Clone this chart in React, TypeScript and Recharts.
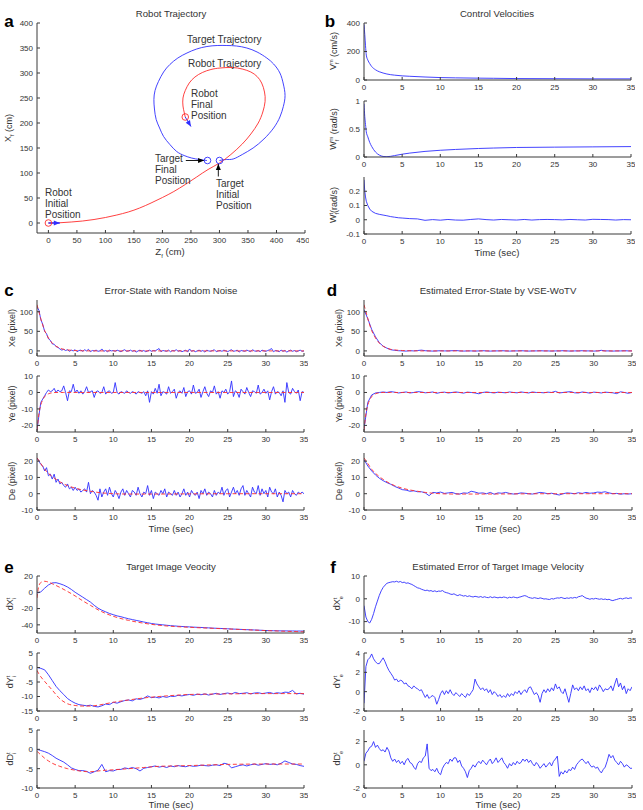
import React from "react";
import { LineChart, Line, XAxis, YAxis } from "recharts";

const FONT = '"Liberation Sans", Arial, Helvetica, sans-serif';
const BLUE = "#2f2fff";
const RED = "#ff2b2b";
const INK = "#333";
const AX = "#3a3a3a";

// time grids
const T_TICKS = [0, 5, 10, 15, 20, 25, 30, 35];
const T_Q = Array.from({ length: 141 }, (_, i) => i / 4); // 0.25 s samples
const T_H = Array.from({ length: 71 }, (_, i) => i / 2); // 0.5 s samples

// ---------- a: robot trajectory (Z, X in cm)
const TGT_Z = [300, 312, 324, 340, 359, 378, 395, 406, 412, 415, 412, 406, 395, 383, 366, 348, 330, 313, 296, 278, 260, 243, 227, 213, 202, 193, 187, 185, 186, 189, 195, 202, 213, 225, 238, 251, 265, 278];
const TGT_X = [125, 127, 128, 137, 150, 168, 190, 212, 233, 255, 278, 300, 318, 330, 342, 350, 354, 355, 355, 353, 348, 340, 330, 317, 302, 283, 265, 247, 228, 207, 190, 173, 157, 143, 135, 130, 127, 125];
const RB_Z = [0, 20, 40, 60, 80, 100, 120, 140, 160, 180, 200, 220, 240, 260, 280, 300, 320, 340, 355, 368, 376, 380, 379, 374, 366, 355, 340, 322, 301, 285, 270, 257, 247, 240, 236, 236, 238, 240];
const RB_X = [0, 0.5, 2, 4, 7, 11, 16, 22, 30, 40, 51, 63, 77, 92, 107, 120, 137, 158, 178, 200, 222, 243, 262, 280, 293, 302, 308, 311, 310, 307, 301, 292, 280, 265, 250, 234, 222, 212];
const ROBOT_START = [{ x: 0, y: 0 }];
const ROBOT_END = [{ x: 240, y: 212 }];
const TARGET_START = [{ x: 300, y: 125 }];
const TARGET_END = [{ x: 279, y: 125 }];
const ARROW_ROBOT_START = [{ x: 0, y: 0 }, { x: 20, y: 0 }];
const ARROW_ROBOT_END = [{ x: 240, y: 212 }, { x: 250, y: 193 }];
const ARROW_TGT_FINAL = [{ x: 241, y: 125 }, { x: 273, y: 125 }];
const ARROW_TGT_INIT = [{ x: 298, y: 93 }, { x: 298, y: 118 }];
const A_XTICKS = [0, 50, 100, 150, 200, 250, 300, 350, 400, 450];
const A_YTICKS = [0, 50, 100, 150, 200, 250, 300, 350, 400];

// ---------- b: control velocities
const B_T = [0, 0.1, 0.2, 0.3, 0.5, 0.75, 1, 1.5, 2, 2.5, 3, 4, 5, 6, 8, 10, 12, 15, 17, 20, 25, 30, 35];
const V_M = [390, 320, 240, 175, 140, 115, 95, 72, 58, 49, 42, 34, 29, 26, 21, 17, 15, 13, 12, 10, 9, 8, 8];
const W_M = [0.95, 0.72, 0.58, 0.45, 0.36, 0.26, 0.19, 0.09, 0.035, 0.01, 0.005, 0.025, 0.05, 0.07, 0.1, 0.12, 0.135, 0.152, 0.16, 0.17, 0.176, 0.181, 0.186];
const WT_T = [0, 0.1, 0.2, 0.3, 0.5, 0.75, 1, 1.5, 2, 2.5, 3, 3.5, 4, 4.5, 5, 6, 7, 8, 9, 10, 11, 12, 13, 14, 15, 16, 17, 18, 19, 20, 21, 22, 23, 24, 25, 26, 27, 28, 29, 30, 31, 32, 33, 34, 35];
const W_T = [
  0.28, 0.2, 0.16, 0.13, 0.1, 0.075, 0.06, 0.045, 0.038, 0.033, 0.028, 0.022, 0.018, 0.014, 0.012,
  0.008, 0.006, -0.004, 0.001, -0.003, 0.002, -0.002, -0.003, 0.002, 0.006,
  0.001, -0.002, 0.002, 0, -0.002, 0.002, -0.002, 0.001, 0.002, 0.001,
  -0.001, 0.002, 0, -0.002, 0.003, 0.002, 0.001, -0.002, 0.001, 0,
];

// ---------- true error states (red)
const E_T = [0, 0.25, 0.5, 0.75, 1, 1.25, 1.5, 2, 2.5, 3, 3.5, 4, 5, 6, 8, 10, 15, 20, 25, 30, 35];
const XE_TRUE = [118, 100, 82, 66, 52, 42, 33, 20, 12, 7, 4, 2.5, 1, 0.3, 0, 0, 0, 0, 0, 0, 0];
const YE_TRUE = [-23, -13, -7.5, -4.5, -2.5, -1.5, -0.8, -0.2, 0, 0, 0, 0, 0, 0, 0, 0, 0, 0, 0, 0, 0];
const DE_T = [0, 0.5, 1, 1.5, 2, 2.5, 3, 3.5, 4, 5, 6, 7, 8, 9, 10, 12, 15, 20, 25, 30, 35];
const DE_TRUE = [22, 18.5, 15, 12.5, 10.5, 8.8, 7.3, 6, 5, 3.4, 2.3, 1.5, 0.8, 0.3, 0, -0.2, -0.2, -0.1, 0, 0, 0];

// ---------- c: measured error-state with noise (0.25 s)
const XE_NOISY = [
  112, 104, 80, 68, 50, 44, 31, 27, 18, 17, 11, 9, 5, 2, 4, 1, 3, -1, 2, 0,
  3, -2, 1, 2, -1, 3, 0, 4, -2, 1, 0, 2, -1, 0, 5, -1, 1, -2, 2, 0,
  1, -1, 2, 0, -2, 1, 3, -1, 0, 2, -1, 1, -3, 0, 2, -1, 1, -2, 0, 2,
  -1, 1, 0, 3, 6, -2, 1, 0, -1, 2, -2, 1, 0, 3, -1, 1, -2, 0, 2, -3,
  5, -1, 1, -2, 0, 2, -1, 1, -3, 2, 0, -1, 1, 3, -2, 0, 1, -1, 2, 0,
  -2, 1, 3, -1, 0, 2, -3, 1, 0, -1, 2, 0, -2, 3, 0, -1, 1, -2, 2, 0,
  -1, 1, 3, 6, -2, 1, 0, -2, 2, -1, 1, -3, 0, 2, -1, 1, -2, 0, 2, -1,
  0,
];
const YE_NOISY = [
  -23, -14, -6, -4, -2, 0, 1.5, 0.5, 1, 2.5, 0, 1.5, 0.5, 1, 4, 0, -5, 1, 0.5, 5,
  0, 1.5, -0.5, 1, -1, 0.5, 3.5, 0, 0.5, 1, -3, 0.5, 1, -0.5, 0, 3.5, -1, 0.5, 1, -0.5,
  0, 6, 0, -1, 0.5, 0, -0.5, 1, 0, -0.5, 0.5, 0, -1, 0.5, 0, -0.5, 0.5, -2, 1, -6,
  0.5, -1, 2.5, -0.5, 5, -2, 0.5, 0, -1, 3.5, -0.5, 0.5, 2, -3.5, 0, 1, -0.5, 3, -2.5, 0.5,
  1, -1, 4.5, -0.5, 0, 2, -3, 0.5, 3.5, -0.5, -2.5, 1, 0, 4, -1, 0.5, -3.5, 1, 0, 2,
  -1, 0.5, 7, -2.5, 1, 0, -3, 2, 0.5, -1, 3, 0, -2.5, 1, 0.5, -0.5, 4.5, -1, 0, 2,
  -0.5, 1, -4.5, 0.5, 3.5, -1, 0.5, 0, -2, 1, -6, 6, 0, -1, 2.5, 0.5, -0.5, 1.5, -5, 0.5,
  0,
];
const DE_NOISY = [
  22, 20, 18, 17, 14, 16, 11, 12, 9, 12, 7, 9, 6, 7, 5, 4, 6, 3, 4, 2,
  4, 2, 3, 1, 2, 3, 1, 7, 0, 2, 1, -1, -4, 3, -2, 1, 3, -1, 4, 0,
  -2, 2, 0, -3, 1, 3, -1, 2, 0, -2, 2, 1, -1, 4, 0, -2, 1, 0, 5, -1,
  2, -3, 1, 0, -1, 2, 0, 3, -2, 1, 0, -1, 2, -1, 1, -2, 0, 3, -1, 1,
  -2, 2, 0, -1, 1, -3, 2, 0, 3, -1, 1, 0, -2, 2, -1, 1, 0, 4, -1, 2,
  3, -2, 1, 4, 0, 2, -1, 3, 5, -1, 2, 0, -2, 4, 1, 0, 5, -1, 3, 0,
  2, -2, 4, 1, 0, 3, -2, 1, -1, -5, 2, 0, 1, -2, 2, 0, -1, 1, 0, 1,
  0,
];

// ---------- d: estimated error-state (0.5 s)
const XE_EST = [
  105, 82, 55, 36, 21, 12, 7, 3, 1.5, 0.5, 0, -0.5, 0.5, 0, 1, 2, 0.5, 0, -0.5, 0,
  0.5, 0, 0, 0.5, 1, 0, -0.5, 0, 0, -0.5, 0, 0.5, 0, -0.5, 0, 0, 0.5, 0, -0.5, 0,
  0, 0.5, 0, -0.5, 0, 0, 0.5, 0, 0, -0.5, 0, 0, 0.5, 0, -0.5, 0, 0, 0.5, 0, 0,
  -0.5, 0, 1.5, 0, 0, -0.5, 0, 0, 0.5, 0, 0,
];
const YE_EST = [
  -22, -6, -1.5, -0.3, 0, 0.3, 0, 0.5, 0.2, -0.3, 0, 0.3, -0.3, 0, 0.5, 0.3, -0.2, 0, 0.3, -0.5,
  0, 0.2, -0.3, 0, 0.3, 0, -0.4, 0.2, 0, -0.3, -0.8, 0, 0.3, 0, -0.3, 0.2, 0, -0.2, 0.3, 0,
  -0.2, 0.3, 0, -0.3, 0.3, 0, 0, -0.2, 0.2, 0, 0.7, -0.3, 0, 0.3, 0.5, -0.2, -0.3, 0.3, 0, -0.4,
  0.2, 0, -0.3, 0.2, 0, -0.2, -0.7, 0.4, 0, -0.5, 0,
];
const DE_EST = [
  21, 17, 14, 11.5, 9.5, 8, 6.8, 5.8, 4.5, 3.5, 2.5, 2.2, 1.5, 1.8, 1.2, 1.2, 0.5, -1.2, 0.8, 0.5,
  1, 0.2, 0.5, 0.8, 0, -0.2, 0.5, 0.3, 1.5, 1, 0.3, 0.5, 0, 0.8, -0.3, 0.5, 0.3, 0.8, 0.2, -0.2,
  0, 0.5, 0.3, 0, -0.2, 0.3, 0.8, 0.5, 0, 0.3, -0.3, -0.8, 0, 0.5, 0.3, 0, 0.6, 0.2, 0.8, 0.3,
  0.5, 1, 0.8, 1.2, 0.5, 0, 0.2, -0.3, 0, -0.2, 0,
];

// ---------- e: target image velocity
const EV_T = [0, 0.2, 0.5, 1, 1.5, 2, 3, 4, 5, 6, 7, 8, 9, 10, 12, 14, 16, 18, 20, 25, 30, 35];
const DX_REF = [-7, 6, 12, 13.5, 12.5, 10.5, 6, 1, -4.5, -10.5, -16, -21.5, -26, -29.5, -34.5, -38, -40.5, -42, -43, -45, -47, -48.6];
const DY_REF = [-1, -2, -3.2, -4.8, -6.3, -7.8, -10.8, -12.5, -13.1, -13.3, -13.3, -13, -12.5, -12, -11.2, -10.5, -10, -9.6, -9.3, -9.1, -9, -9];
const DD_REF = [-0.5, -0.9, -1.4, -2.3, -3, -3.6, -4.4, -5, -5.4, -5.7, -5.8, -5.6, -5.4, -5.3, -5, -4.7, -4.4, -4.3, -4.2, -3.9, -3.8, -3.8];
const DX_MEAS = [
  -1, 0.5, 5, 9, 11.5, 11.8, 10.5, 8.8, 6.5, 3.5, 0, -3, -6, -9, -12, -16, -19.5, -22, -24, -26,
  -27.5, -29, -30, -31.3, -32.5, -33.5, -34.5, -35.5, -36.5, -37.4, -38.3, -39, -39.5, -40, -40.5, -41, -41.3, -41.7, -42, -42.3,
  -42.5, -42.8, -43, -43.2, -43.5, -43.7, -44, -44.2, -44.4, -44.6, -44.8, -45.1, -45.3, -45.5, -45.7, -45.9, -46.1, -46.3, -46.5, -46.7,
  -47, -47.1, -47.2, -47.3, -47.4, -47.4, -47.5, -47.5, -47.6, -47.6, -47.6,
];
const DY_MEAS = [
  0, -0.3, -0.8, -2.5, -4.5, -6.5, -8, -9.3, -10.7, -11.6, -12.3, -12.8, -13, -13.2, -13, -13.4, -13.6, -13.2, -12.6, -12.8,
  -12, -12.3, -11.8, -11.4, -11.2, -11.5, -10.8, -11, -10.6, -9.8, -10.4, -10.2, -10.5, -10, -10.3, -9.9, -10, -9.6, -9.8, -9.5,
  -9.3, -9.6, -9.2, -9.4, -9.1, -9.5, -9.2, -8.9, -9.3, -9, -8.8, -9.1, -8.6, -9, -8.9, -8.7, -9.1, -8.8, -8.7, -9,
  -8.8, -8.6, -9, -8.7, -8.9, -8.5, -8.6, -7.9, -9.1, -8.9, -9.2,
];
const DD_MEAS = [
  0, -0.3, -0.6, -1, -1.6, -2.3, -2.8, -3.3, -4, -4.8, -5.2, -5.5, -5.5, -5.7, -6.2, -5.8, -5.4, -3.9, -5.8, -5.5,
  -5.6, -5.2, -5.2, -4.8, -5, -4.7, -5, -5.6, -4.9, -4.7, -4.5, -4.3, -4.6, -4.4, -4.7, -4.3, -4.5, -4.2, -4.4, -4.5,
  -4.2, -4.4, -4.3, -4.1, -4.2, -4.3, -4.1, -4, -4.2, -3.6, -3.8, -4.8, -4.5, -4.2, -4, -4.3, -4, -3.8, -4.1, -3.9,
  -3.7, -3.9, -3.8, -4, -3.6, -3, -3.4, -3.8, -3.9, -4.2, -4.4,
];

// ---------- f: estimated error of target image velocity (0.25 s)
const DX_ERR = [
  -3, -8, -10, -10.6, -9, -6.5, -3.5, -1, 1.5, 3.5, 5, 6, 6.8, 7.1, 7.3, 7.5, 7.4, 7.7, 7.3, 7.6,
  7.1, 7.3, 6.8, 7, 6.6, 6.3, 5.8, 5.3, 4.8, 4.6, 4.2, 3.9, 3.6, 3.8, 3.4, 3.6, 3.2, 3.5, 3.1, 3.4,
  3.3, 3.6, 3, 2.7, 2.5, 2.1, 1.9, 2.2, 1.7, 1.4, 1.8, 1.5, 1.2, 1.4, 1, 1.3, 1, 0.8, 1.1, 0.9,
  0.7, 1, 0.6, 0.9, 0.6, 0.5, 0.9, 0.5, 0.8, 0.6, 0.4, 0.7, 0.5, 0.8, 0.6, 0.3, 0.7, 0.5, 0.8, 0.6,
  0.4, 0.7, 0.9, 1.2, 1.4, 1.1, 0.6, 0.4, 0.2, 0.5, 0.3, 0.1, 0.4, 0.2, -0.1, 0, -0.2, -0.3, 0.1, -0.1,
  0.2, 0.4, 0.3, 0.6, 0.3, 0.1, 0.4, 0.2, 0.5, 0.3, 0.6, 0.4, 0.9, 1.1, 1.4, 0.8, 0.3, 0.1, -0.2, 0.1,
  -0.1, 0.2, 0, -0.2, 0, -0.3, -0.1, -0.4, -0.2, -0.6, -0.8, -0.5, -0.3, 0, 0.2, -0.1, 0.2, 0.4, 0.1, 0.4,
  0.3,
];
const DY_ERR = [
  -1.2, 2.6, 3.3, 3.5, 3.9, 3.4, 3.1, 2.9, 2.9, 3.2, 3.5, 3.1, 2.6, 2.2, 1.9, 1.6, 1.2, 1.3, 1, 1.2,
  1.1, 0.8, 0.9, 0.6, 0.5, 0.3, 0.6, 0.4, 0.3, 0.1, 0.2, -0.2, -0.6, -0.3, -0.7, -0.5, -0.4, -0.6, -1.3, -0.8,
  -0.2, 0.1, -0.3, 0.1, -0.2, 0.2, -0.2, -0.4, -0.1, -0.3, -0.5, -0.2, -0.4, -0.6, -0.2, -0.4, -0.1, 0.2, 1.3, 0.8,
  0.5, 0.2, 0.4, 0.1, 0.3, -0.1, 0.2, -0.3, 0, -0.2, -0.5, -0.3, -0.6, -0.4, -0.6, -0.2, -0.5, -0.2, -0.4, 0,
  -0.2, 0.1, -0.3, 0, 0.2, -0.1, 0.4, 0.5, 0.1, -0.3, -0.1, -0.4, -1.1, -0.2, 0.2, -0.1, 0.3, 0, 0.4, 0.1,
  0.8, 0.3, 0.5, 0, -0.2, 0.3, -0.4, -1.1, -0.2, 0.7, 0.2, 0.4, 0.1, 0.5, 0.2, 0.6, 0.1, 0.3, -0.1, 0.4,
  0.2, 0.5, 0.1, 0.7, 0.4, 0, 0.3, 0.2, 0.3, 0.6, 0.1, 0.8, 1.4, 0.5, 0.9, 0.2, 0.6, -0.2, 0.3, 0.1,
  0.5,
];
const DD_ERR = [
  0.3, 1, 1.2, 1.5, 1.6, 2, 1.5, 1.7, 1.4, 1.2, 1.3, 1.1, 1.5, 1.2, 0.6, 0.3, 0.5, 0.2, 0.4, 0.1,
  0.3, 0, 0.4, 0.55, 0.2, 0.1, -0.2, -0.4, 0.1, 0.3, 0.2, 0.6, 0.75, 1.8, -0.3, -0.5, -0.4, -0.6, -0.3, -0.7,
  -0.85, -0.3, 0, 0.2, 0.1, 0.5, 0.3, 0.6, 0.6, 0.2, 0.4, -0.1, -0.3, -0.6, -1.1, -0.5, -0.3, 0, -0.2, 0.1,
  0.3, 0.1, 0.4, 0.2, 0, 0.3, 0.5, 0.1, 0.3, 0.6, 0.2, 0.4, 0.6, 0.2, 0, -0.3, 0.1, -0.1, 0.2, 0,
  0.3, 0.1, 0.2, 0.5, 0.3, 0.5, 0.2, 0.4, 0.1, -0.1, 0.2, 0, -0.3, -0.1, 0.1, -0.2, 0, 0.2, -0.1, 0.3,
  0.5, 0.75, -1, -0.6, -0.8, -0.5, -0.7, -0.4, -0.5, -0.2, -0.4, 0, 0.2, 0.4, 0.5, 0.3, 0.1, 0.3, 0, -0.2,
  -0.1, -0.3, -0.2, -0.5, -0.7, -0.4, -0.2, 0.3, 0.9, 0.6, 0.8, 0.4, 0.2, 0, 0.3, 0.1, -0.2, 0, -0.1, -0.3,
  -0.3,
];

const rows = (ts: number[], vs: number[]) => ts.map((t, i) => ({ t, v: vs[i] }));
const pts = (xs: number[], ys: number[]) => xs.map((x, i) => ({ x, y: ys[i] }));

const YW = 32;
const PAD = 4;
const XH = 16;
const blank = () => "";
const tickStyle = { fontSize: 8, fill: INK, fontFamily: FONT };

type Ser = { t: number[]; v: number[]; color: string; dash?: string; curve?: "linear" | "monotone" };

function TimePlot({ x, y, w, h, yDomain, yTicks, series }: {
  x: number; y: number; w: number; h: number;
  yDomain: [number, number]; yTicks: number[]; series: Ser[];
}) {
  return (
    <div style={{ position: "absolute", left: x - YW, top: y - PAD }}>
      <LineChart width={w + YW + PAD} height={h + PAD + XH} margin={{ top: PAD, right: PAD, bottom: 0, left: 0 }}>
        <XAxis xAxisId="b" dataKey="t" type="number" domain={[0, 35]} ticks={T_TICKS} allowDataOverflow
          height={XH} tickSize={-3} tickMargin={7} tick={tickStyle} axisLine={{ stroke: AX }} tickLine={{ stroke: AX }} />
        <XAxis xAxisId="t" orientation="top" dataKey="t" type="number" domain={[0, 35]} ticks={T_TICKS} allowDataOverflow
          height={0} tickSize={-3} tickFormatter={blank} axisLine={{ stroke: AX }} tickLine={{ stroke: AX }} />
        <YAxis yAxisId="l" type="number" domain={yDomain} ticks={yTicks} allowDataOverflow width={YW}
          tickSize={-3} tickMargin={7} tick={tickStyle} axisLine={{ stroke: AX }} tickLine={{ stroke: AX }} />
        <YAxis yAxisId="r" orientation="right" type="number" domain={yDomain} ticks={yTicks} allowDataOverflow width={0}
          tickSize={-3} tickFormatter={blank} axisLine={{ stroke: AX }} tickLine={{ stroke: AX }} />
        {series.map((s, i) => (
          <Line key={i} xAxisId="b" yAxisId="l" data={rows(s.t, s.v)} dataKey="v" type={s.curve ?? "linear"}
            stroke={s.color} strokeWidth={0.9} strokeDasharray={s.dash} dot={false} activeDot={false}
            isAnimationActive={false} />
        ))}
      </LineChart>
    </div>
  );
}

const Txt = ({ x, y, size = 9.6, bold = false, children }: any) => (
  <div style={{
    position: "absolute", left: x, top: y, transform: "translate(-50%, -50%)", fontSize: size,
    fontWeight: bold ? 700 : 400, lineHeight: 1, whiteSpace: "nowrap", color: bold ? "#000" : INK,
  }}>{children}</div>
);

const VLabel = ({ x, y, children }: any) => (
  <div style={{
    position: "absolute", left: x, top: y, transform: "translate(-50%, -50%) rotate(-90deg)",
    fontSize: 9, lineHeight: 1, whiteSpace: "nowrap", color: INK,
  }}>{children}</div>
);

// base letter with stacked superscript / subscript
const SS = ({ b, sup, sub }: any) => (
  <span>
    {b}
    <span style={{ position: "relative", display: "inline-block", fontSize: "0.62em", verticalAlign: "0.6em", lineHeight: 1 }}>
      {sup ?? "\u00a0"}
      <span style={{ position: "absolute", left: 0, top: "1.05em" }}>{sub}</span>
    </span>
  </span>
);

const Note = ({ x, y, lines }: { x: number; y: number; lines: string[] }) => (
  <div style={{ position: "absolute", left: x, top: y, fontSize: 10, lineHeight: "11px", color: INK, whiteSpace: "nowrap" }}>
    {lines.map((l) => <div key={l}>{l}</div>)}
  </div>
);

const ring = (color: string) => (p: any) => (
  <circle key={`r${p.index}`} cx={p.cx} cy={p.cy} r={3.3} stroke={color} strokeWidth={0.9} fill="none" />
);
const head = (color: string, angle: number) => (p: any) =>
  p.index === 1 ? (
    <polygon key={`h${p.index}`} points="0,0 -6,-2.5 -6,2.5" fill={color} stroke="none"
      transform={`translate(${p.cx},${p.cy}) rotate(${angle})`} />
  ) : <g key={`h${p.index}`} />;

function Trajectory() {
  const axisProps = { tickSize: -3, tickMargin: 7, tick: tickStyle, axisLine: { stroke: AX }, tickLine: { stroke: AX } };
  return (
    <div style={{ position: "absolute", left: 37 - YW, top: 23 - PAD }}>
      <LineChart width={268 + YW + PAD} height={210 + PAD + XH} margin={{ top: PAD, right: PAD, bottom: 0, left: 0 }}>
        <XAxis dataKey="x" type="number" domain={[-20, 450]} ticks={A_XTICKS} allowDataOverflow height={XH} {...axisProps} />
        <YAxis type="number" domain={[-20, 400]} ticks={A_YTICKS} allowDataOverflow width={YW} {...axisProps} />
        <Line data={pts(TGT_Z, TGT_X)} dataKey="y" type="natural" stroke={BLUE} strokeWidth={0.9} dot={false} activeDot={false} isAnimationActive={false} />
        <Line data={pts(RB_Z, RB_X)} dataKey="y" type="natural" stroke={RED} strokeWidth={0.9} dot={false} activeDot={false} isAnimationActive={false} />
        <Line data={ARROW_ROBOT_START} dataKey="y" stroke={BLUE} strokeWidth={1.4} dot={head(BLUE, 0)} activeDot={false} isAnimationActive={false} />
        <Line data={ARROW_ROBOT_END} dataKey="y" stroke={BLUE} strokeWidth={1} dot={head(BLUE, 59)} activeDot={false} isAnimationActive={false} />
        <Line data={ARROW_TGT_FINAL} dataKey="y" stroke="#000" strokeWidth={0.9} dot={head("#000", 0)} activeDot={false} isAnimationActive={false} />
        <Line data={ARROW_TGT_INIT} dataKey="y" stroke="#000" strokeWidth={0.9} dot={head("#000", -90)} activeDot={false} isAnimationActive={false} />
        <Line data={ROBOT_START} dataKey="y" stroke="none" dot={ring(RED)} activeDot={false} isAnimationActive={false} />
        <Line data={ROBOT_END} dataKey="y" stroke="none" dot={ring(RED)} activeDot={false} isAnimationActive={false} />
        <Line data={TARGET_START} dataKey="y" stroke="none" dot={ring(BLUE)} activeDot={false} isAnimationActive={false} />
        <Line data={TARGET_END} dataKey="y" stroke="none" dot={ring(BLUE)} activeDot={false} isAnimationActive={false} />
      </LineChart>
    </div>
  );
}

const DASH = "4 2.5";

export default function App() {
  const L = 37, R = 364, WL = 267, WR = 268;
  return (
    <div style={{ position: "absolute", left: 0, top: 0, width: 643, height: 810, background: "#fff", fontFamily: FONT, overflow: "hidden" }}>
      {/* a */}
      <Trajectory />
      <Txt x={171} y={14}>Robot Trajectory</Txt>
      <Txt x={170} y={252}><SS b="Z" sub="f" /> (cm)</Txt>
      <VLabel x={9} y={128}><SS b="X" sub="f" /> (cm)</VLabel>
      <Note x={187} y={34} lines={["Target Trajectory"]} />
      <Note x={188} y={58} lines={["Robot Trajectory"]} />
      <Note x={191} y={88} lines={["Robot", "Final", "Position"]} />
      <Note x={155} y={153} lines={["Target", "Final", "Position"]} />
      <Note x={216} y={178} lines={["Target", "Initial", "Position"]} />
      <Note x={45} y={187} lines={["Robot", "Initial", "Position"]} />

      {/* b */}
      <Txt x={497} y={14}>Control Velocities</Txt>
      <TimePlot x={R} y={23} w={WL} h={57} yDomain={[0, 400]} yTicks={[0, 200, 400]}
        series={[{ t: B_T, v: V_M, color: BLUE, curve: "monotone" }]} />
      <TimePlot x={R} y={101} w={WL} h={56} yDomain={[0, 1]} yTicks={[0, 0.5, 1]}
        series={[{ t: B_T, v: W_M, color: BLUE, curve: "monotone" }]} />
      <TimePlot x={R} y={177} w={WL} h={57} yDomain={[-0.1, 0.3]} yTicks={[-0.1, 0, 0.1, 0.2]}
        series={[{ t: WT_T, v: W_T, color: BLUE }]} />
      <VLabel x={334} y={51}><SS b="V" sup="m" sub="f" /> (cm/s)</VLabel>
      <VLabel x={334} y={129}><SS b="W" sup="m" sub="f" /> (rad/s)</VLabel>
      <VLabel x={334} y={205}><SS b="W" sup="t" sub="f" />(rad/s)</VLabel>
      <Txt x={497} y={253}>Time (sec)</Txt>

      {/* c */}
      <Txt x={171} y={291}>Error-State with Random Noise</Txt>
      <TimePlot x={L} y={300} w={WL} h={56} yDomain={[-13, 130]} yTicks={[0, 50, 100]}
        series={[{ t: T_Q, v: XE_NOISY, color: BLUE }, { t: E_T, v: XE_TRUE, color: RED, dash: DASH, curve: "monotone" }]} />
      <TimePlot x={L} y={376} w={WL} h={56} yDomain={[-24, 10]} yTicks={[-20, -10, 0, 10]}
        series={[{ t: T_Q, v: YE_NOISY, color: BLUE }, { t: E_T, v: YE_TRUE, color: RED, dash: DASH, curve: "monotone" }]} />
      <TimePlot x={L} y={453} w={WL} h={57} yDomain={[-10, 25]} yTicks={[-10, 0, 10, 20]}
        series={[{ t: T_Q, v: DE_NOISY, color: BLUE }, { t: DE_T, v: DE_TRUE, color: RED, dash: DASH, curve: "monotone" }]} />
      <VLabel x={12} y={328}>Xe (pixel)</VLabel>
      <VLabel x={12} y={404}>Ye (pixel)</VLabel>
      <VLabel x={12} y={481}>De (pixel)</VLabel>
      <Txt x={171} y={529}>Time (sec)</Txt>

      {/* d */}
      <Txt x={498} y={291}>Estimated Error-State by VSE-WoTV</Txt>
      <TimePlot x={R} y={300} w={WR} h={56} yDomain={[-13, 130]} yTicks={[0, 50, 100]}
        series={[{ t: T_H, v: XE_EST, color: BLUE }, { t: E_T, v: XE_TRUE, color: RED, dash: DASH, curve: "monotone" }]} />
      <TimePlot x={R} y={376} w={WR} h={56} yDomain={[-24, 10]} yTicks={[-20, -10, 0, 10]}
        series={[{ t: T_H, v: YE_EST, color: BLUE }, { t: E_T, v: YE_TRUE, color: RED, dash: DASH, curve: "monotone" }]} />
      <TimePlot x={R} y={453} w={WR} h={57} yDomain={[-10, 25]} yTicks={[-10, 0, 10, 20]}
        series={[{ t: T_H, v: DE_EST, color: BLUE }, { t: DE_T, v: DE_TRUE, color: RED, dash: DASH, curve: "monotone" }]} />
      <VLabel x={339} y={328}>Xe (pixel)</VLabel>
      <VLabel x={339} y={404}>Ye (pixel)</VLabel>
      <VLabel x={339} y={481}>De (pixel)</VLabel>
      <Txt x={498} y={529}>Time (sec)</Txt>

      {/* e */}
      <Txt x={171} y={567}>Target Image Veocity</Txt>
      <TimePlot x={L} y={576} w={WL} h={57} yDomain={[-50, 20]} yTicks={[-40, -20, 0, 20]}
        series={[{ t: T_H, v: DX_MEAS, color: BLUE }, { t: EV_T, v: DX_REF, color: RED, dash: DASH, curve: "monotone" }]} />
      <TimePlot x={L} y={653} w={WL} h={58} yDomain={[-15, 5]} yTicks={[-15, -10, -5, 0, 5]}
        series={[{ t: T_H, v: DY_MEAS, color: BLUE }, { t: EV_T, v: DY_REF, color: RED, dash: DASH, curve: "monotone" }]} />
      <TimePlot x={L} y={730} w={WL} h={58} yDomain={[-10, 5]} yTicks={[-10, -5, 0, 5]}
        series={[{ t: T_H, v: DD_MEAS, color: BLUE }, { t: EV_T, v: DD_REF, color: RED, dash: DASH, curve: "monotone" }]} />
      <VLabel x={11} y={604}><SS b="dX" sup="t" sub="i" /></VLabel>
      <VLabel x={11} y={682}><SS b="dY" sup="t" sub="i" /></VLabel>
      <VLabel x={11} y={759}><SS b="dD" sup="t" sub="i" /></VLabel>
      <Txt x={171} y={805}>Time (sec)</Txt>

      {/* f */}
      <Txt x={498} y={567}>Estimated Error of Target Image Velocity</Txt>
      <TimePlot x={R} y={576} w={WR} h={57} yDomain={[-15, 10]} yTicks={[-10, 0, 10]}
        series={[{ t: T_Q, v: DX_ERR, color: BLUE }]} />
      <TimePlot x={R} y={653} w={WR} h={58} yDomain={[-2, 4]} yTicks={[-2, 0, 2, 4]}
        series={[{ t: T_Q, v: DY_ERR, color: BLUE }]} />
      <TimePlot x={R} y={730} w={WR} h={58} yDomain={[-2, 3]} yTicks={[-2, 0, 2]}
        series={[{ t: T_Q, v: DD_ERR, color: BLUE }]} />
      <VLabel x={338} y={604}><SS b="dX" sup="t" sub="e" /></VLabel>
      <VLabel x={338} y={682}><SS b="dY" sup="t" sub="e" /></VLabel>
      <VLabel x={338} y={759}><SS b="dD" sup="t" sub="e" /></VLabel>
      <Txt x={498} y={805}>Time (sec)</Txt>

      {/* panel letters */}
      <Txt x={9} y={21} size={17} bold>a</Txt>
      <Txt x={330} y={21} size={17} bold>b</Txt>
      <Txt x={9} y={290} size={17} bold>c</Txt>
      <Txt x={332} y={290} size={17} bold>d</Txt>
      <Txt x={9} y={567} size={17} bold>e</Txt>
      <Txt x={333} y={567} size={17} bold>f</Txt>
    </div>
  );
}
